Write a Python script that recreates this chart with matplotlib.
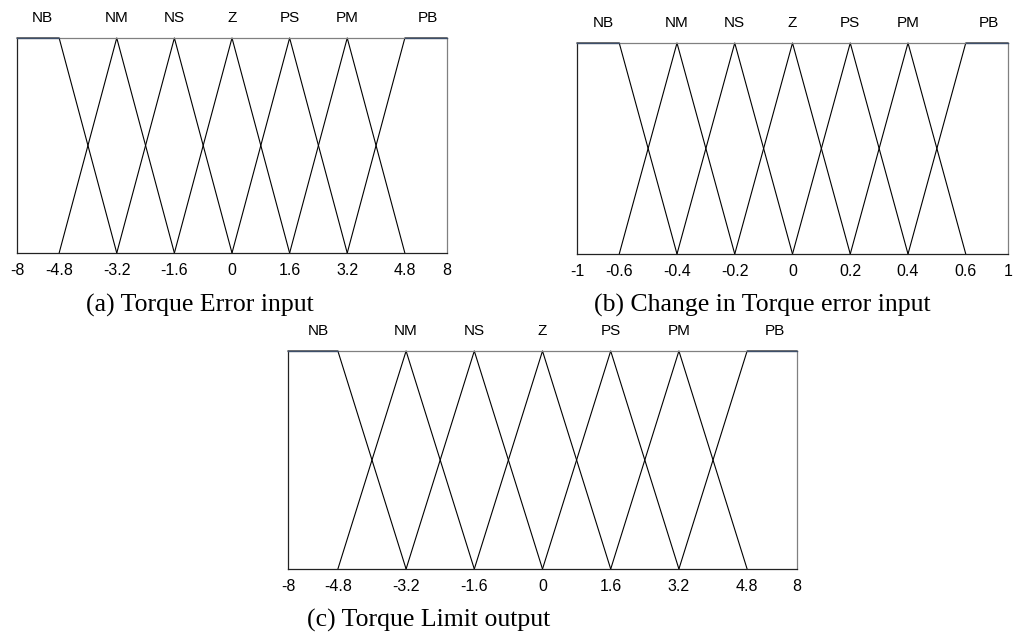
import numpy as np
import matplotlib
matplotlib.use("Agg")
import matplotlib.pyplot as plt

# fuzzy sets, one triangle per set between ticks[i] .. ticks[i+2]
set_names = ["NB", "NM", "NS", "Z", "PS", "PM", "PB"]
error_ticks = [-8, -4.8, -3.2, -1.6, 0, 1.6, 3.2, 4.8, 8]
derror_ticks = [-1, -0.6, -0.4, -0.2, 0, 0.2, 0.4, 0.6, 1]
limit_ticks = [-8, -4.8, -3.2, -1.6, 0, 1.6, 3.2, 4.8, 8]

captions = ["(a) Torque Error input",
            "(b) Change in Torque error input",
            "(c) Torque Limit output"]

W, H = 1016, 632
fig = plt.figure(figsize=(W / 100, H / 100), dpi=100)
sans = "Liberation Sans"
serif = "Liberation Serif"


def px_axes(x0, y0, x1, y1):
    # rectangle given in pixels from the top-left corner
    return fig.add_axes([x0 / W, 1 - y1 / H, (x1 - x0) / W, (y1 - y0) / H])


def squeeze_scale(ticks):
    # outer ranges (first/last tick gap) drawn narrower than the inner ones
    br = [ticks[0], ticks[1], ticks[-2], ticks[-1]]
    fr = [0.0, 0.098, 0.902, 1.0]
    fwd = lambda x: np.interp(x, br, fr)
    inv = lambda p: np.interp(p, fr, br)
    return fwd, inv


def draw_panel(ax, ticks):
    fwd, inv = squeeze_scale(ticks)
    ax.set_xscale("function", functions=(fwd, inv))
    ax.set_xlim(ticks[0], ticks[-1])
    ax.set_ylim(0, 1)
    n = len(set_names)
    for i in range(n):
        xs = ticks[i:i + 3]
        if i == 0:
            ys = [1, 1, 0]
        elif i == n - 1:
            ys = [0, 1, 1]
        else:
            ys = [0, 1, 0]
        ax.plot(xs, ys, color="black", lw=0.8, clip_on=False, zorder=2)
        # shoulder tops of NB / PB
        if i == 0:
            ax.plot(xs[:2], [1, 1], color="#3d4f6b", lw=0.9,
                    clip_on=False, zorder=4)
        elif i == n - 1:
            ax.plot(xs[1:], [1, 1], color="#3d4f6b", lw=0.9,
                    clip_on=False, zorder=4)

        if i == 0:
            xy, xc = (0.06, 1), ("axes fraction", "axes fraction")
        elif i == n - 1:
            xy, xc = (0.956, 1), ("axes fraction", "axes fraction")
        else:
            xy, xc = (ticks[i + 1], 1), ("data", "axes fraction")
        ax.annotate(set_names[i], xy=xy, xycoords=xc, xytext=(0, 14.5),
                    textcoords="offset points", ha="center", va="center",
                    fontsize=11, family=sans)

    ax.set_xticks(ticks)
    ax.set_xticklabels([f"{t:g}" for t in ticks], family=sans, fontsize=11.5)
    ax.set_yticks([])
    ax.tick_params(axis="x", length=0, pad=7)
    ax.xaxis.set_minor_locator(matplotlib.ticker.NullLocator())
    for side in ["left", "bottom"]:
        ax.spines[side].set_color("#222222")
    for side in ["top", "right"]:
        ax.spines[side].set_color("#808080")
    for s in ax.spines.values():
        s.set_linewidth(0.9)


ax_a = px_axes(17, 38, 447, 253)
ax_b = px_axes(577, 43, 1008, 254)
ax_c = px_axes(288, 351, 797, 569)

draw_panel(ax_a, error_ticks)
draw_panel(ax_b, derror_ticks)
draw_panel(ax_c, limit_ticks)

fig.text(200 / W, 1 - 312 / H, captions[0], ha="center", va="baseline",
         family=serif, fontsize=18.5)
fig.text(762 / W, 1 - 312 / H, captions[1], ha="center", va="baseline",
         family=serif, fontsize=18.5)
fig.text(429 / W, 1 - 627 / H, captions[2], ha="center", va="baseline",
         family=serif, fontsize=18.5)

fig.savefig("out.png", dpi=100, facecolor="white")
